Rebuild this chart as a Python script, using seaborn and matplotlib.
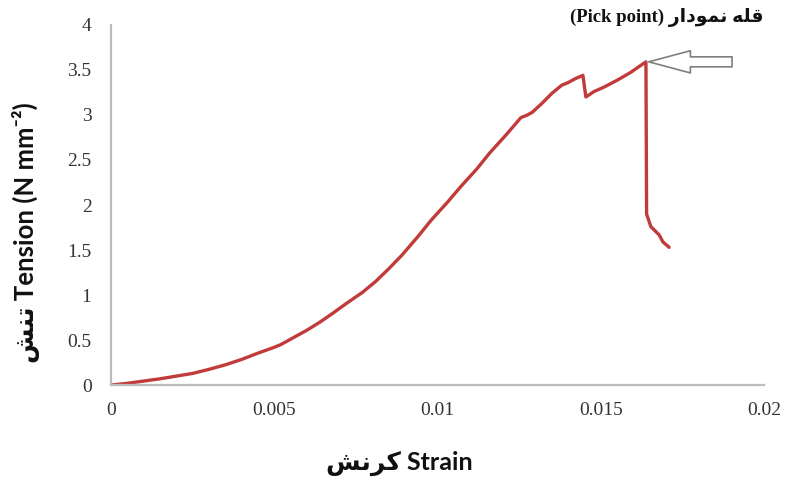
import numpy as np
import pandas as pd
import matplotlib
matplotlib.use("Agg")
import matplotlib.pyplot as plt
import seaborn as sns

# ---- data ----
strain = [0.0, 0.0005, 0.001, 0.0015, 0.002, 0.0025, 0.003, 0.0035, 0.004,
          0.0045, 0.005, 0.0052, 0.0056, 0.006, 0.0064, 0.0068, 0.0072,
          0.0077, 0.0081, 0.0085, 0.0089, 0.0094, 0.0098, 0.0103, 0.0107,
          0.0112, 0.0116, 0.0121, 0.01255, 0.01275, 0.0129, 0.0132, 0.0135,
          0.0138, 0.0140, 0.0142, 0.01445, 0.01454, 0.01479, 0.0151, 0.01552,
          0.0159, 0.01638, 0.0164, 0.01653, 0.01678, 0.0169, 0.01709]
tension = [0.0, 0.02, 0.045, 0.07, 0.10, 0.13, 0.175, 0.225, 0.285,
           0.355, 0.42, 0.45, 0.53, 0.61, 0.70, 0.80, 0.905,
           1.03, 1.15, 1.29, 1.44, 1.65, 1.83, 2.03, 2.20,
           2.40, 2.58, 2.78, 2.97, 3.00, 3.03, 3.13, 3.24,
           3.33, 3.36, 3.40, 3.44, 3.20, 3.26, 3.31, 3.39,
           3.47, 3.59, 1.90, 1.76, 1.67, 1.59, 1.53]
x_ticks = [0, 0.005, 0.01, 0.015, 0.02]
x_tick_labels = ["0", "0.005", "0.01", "0.015", "0.02"]
y_ticks = [0, 0.5, 1, 1.5, 2, 2.5, 3, 3.5, 4]
y_tick_labels = ["0", "0.5", "1", "1.5", "2", "2.5", "3", "3.5", "4"]

# Persian words in shaped presentation forms, visual (left-to-right) order
fa_peak = "\uFEAD\uFE8D\uFEA9\uFEEE\uFEE4\uFEE7 \uFEEA\uFEE0\uFED7"   # قله نمودار
fa_strain = "\uFEB6\uFEE7\uFEAE\uFB90"                                 # کرنش
fa_tension = "\uFEB6\uFEE8\uFE97"                                      # تنش

peak_label = "(Pick point) " + fa_peak
x_label = fa_strain + " Strain"
y_label = fa_tension + " Tension (N mm\u207B\u00B2)"

df = pd.DataFrame({"strain": strain, "tension": tension})

sns.set_theme(style="white")
plt.rcParams["font.family"] = ["Liberation Serif", "DejaVu Sans"]

fig = plt.figure(figsize=(7.87, 4.79), dpi=100)
ax = fig.add_axes([0.141, 0.196, 0.830, 0.752])

sns.lineplot(data=df, x="strain", y="tension", sort=False, estimator=None,
             color="#c23b3b", linewidth=2.4, ax=ax)

ax.set_xlim(0, 0.02)
ax.set_ylim(0, 4)
ax.set_xticks(x_ticks)
ax.set_xticklabels(x_tick_labels)
ax.set_yticks(y_ticks)
ax.set_yticklabels(y_tick_labels)
ax.tick_params(axis="both", length=0, labelsize=14, colors="#333333")
ax.tick_params(axis="x", pad=12)
ax.tick_params(axis="y", pad=14)
for lab in ax.get_xticklabels() + ax.get_yticklabels():
    lab.set_fontfamily(["Liberation Serif", "DejaVu Sans"])

for side in ["top", "right"]:
    ax.spines[side].set_visible(False)
for side in ["left", "bottom"]:
    ax.spines[side].set_color("#bdbdbd")
    ax.spines[side].set_linewidth(1.6)
ax.grid(False)

ax.set_xlabel("")
ax.set_ylabel("")
fig.text(0.508, 0.033, x_label, ha="center", va="center", fontsize=18,
         fontweight="bold", family=["Lato", "DejaVu Sans"], color="#111111")
fig.text(0.033, 0.515, y_label, ha="center", va="center", rotation=90,
         fontsize=18.5, fontweight="bold", family=["Lato", "DejaVu Sans"],
         color="#111111")

# peak annotation
i_peak = int(np.argmax(tension))
ax.annotate("", xy=(strain[i_peak], tension[i_peak]), xytext=(62, 0),
            textcoords="offset points",
            arrowprops=dict(arrowstyle="simple,head_length=3.0,head_width=1.6,tail_width=0.72",
                            mutation_scale=10, fc="white", ec="#7f7f7f", lw=1.2,
                            shrinkA=0, shrinkB=2))
fig.text(0.847, 0.963, peak_label, ha="center", va="center", fontsize=13.5,
         fontweight="bold", family=["Liberation Serif", "DejaVu Sans"],
         color="#111111")

fig.savefig("out.png", dpi=100)
